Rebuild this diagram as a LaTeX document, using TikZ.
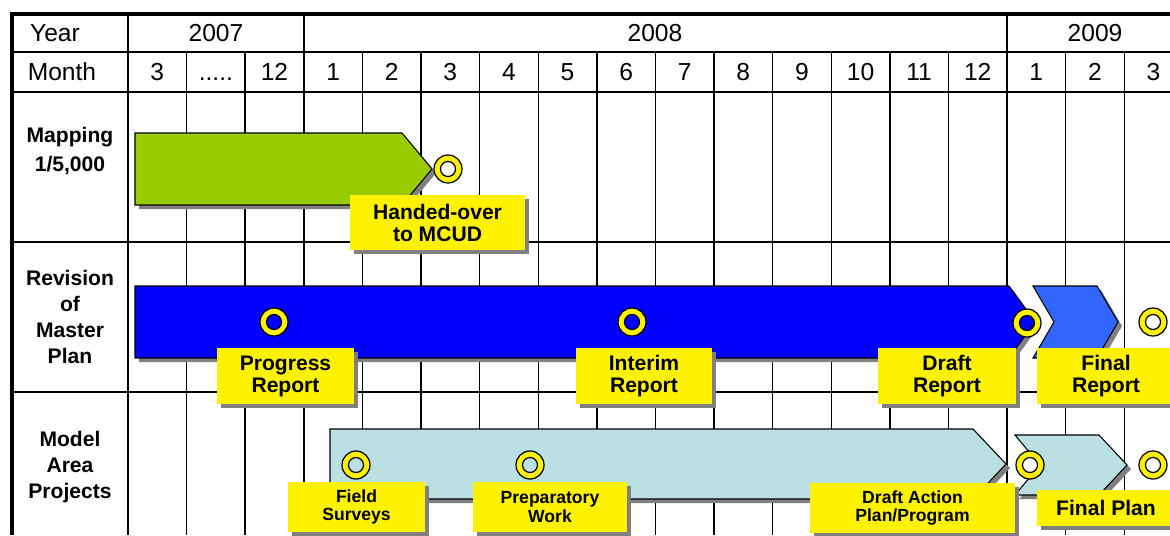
\documentclass[tikz,border=0pt]{standalone}
\usepackage{fontspec}
\setmainfont{Liberation Sans}
\usetikzlibrary{shadows}
\definecolor{mapgreen}{HTML}{99CC00}
\definecolor{planblue}{HTML}{0000FF}
\definecolor{finalblue}{HTML}{3366FF}
\definecolor{areacyan}{HTML}{BBE0E3}
\definecolor{shade}{HTML}{808080}
\tikzstyle{header} = [font=\fontsize{14}{16}\selectfont]
\tikzstyle{rowlabel} = [align=center, font=\fontsize{12}{14.7}\selectfont\bfseries]
\tikzstyle{bar} = [draw=black, line width=0.6pt, general shadow={fill=shade, shadow xshift=2.3pt, shadow yshift=-2.3pt}]
\tikzstyle{ring} = [draw=black, line width=0.7pt, fill=yellow, even odd rule]
\tikzstyle{note} = [rectangle, fill=yellow, align=center, inner sep=0pt, font=\fontsize{12}{12.5}\selectfont\bfseries, general shadow={fill=shade, shadow xshift=2.5pt, shadow yshift=-2.5pt}]
\tikzstyle{smallnote} = [note, font=\fontsize{10}{10.5}\selectfont\bfseries]
\tikzstyle{gridline} = [line width=0.8pt]
\tikzstyle{yearline} = [line width=1.1pt]

\begin{document}
\begin{tikzpicture}[x=0.02cm, y=-0.02cm]
\useasboundingbox (0,0) rectangle (1170,535);
\clip (0,0) rectangle (1170,535);

% table
\foreach \i in {1,2,4,5,...,14,16,17}
  \draw[gridline] ({128+58.6*\i},52) -- ({128+58.6*\i},535);
\foreach \i in {0,3,15}
  \draw[yearline] ({128+58.6*\i},14) -- ({128+58.6*\i},535);
\draw[gridline] (12,52) -- (1170,52);
\draw[yearline] (12,92) -- (1170,92);
\draw[yearline] (12,242) -- (1170,242);
\draw[yearline] (12,392) -- (1170,392);
\draw[line width=1.8pt] (12,535) -- (12,14) -- (1170,14);

\node[header] (year) at (55,33) {Year};
\node[header] (month) at (62,72) {Month};
\node[header] (y07) at (216,33) {2007};
\node[header] (y08) at (655,33) {2008};
\node[header] (y09) at (1095,33) {2009};
\node[header] (m07a) at (157.3,72) {3};
\node[header] (m07b) at (215.9,72) {\vphantom{1}.....};
\node[header] (m07c) at (274.5,72) {12};
\foreach \m in {1,...,12}
  \node[header] (m08-\m) at ({274.5+58.6*\m},72) {\m};
\foreach \m in {1,2,3}
  \node[header] (m09-\m) at ({977.7+58.6*\m},72) {\m};

\node[rowlabel] (map) at (70,151) {Mapping\\[2pt]1/5,000};
\node[rowlabel] (rev) at (70,317) {Revision\\of\\Master\\Plan};
\node[rowlabel] (model) at (70,467) {Model\\Area\\Projects};

% bars
\draw[bar, fill=mapgreen] (135,133) -- (402,133) -- (432,169) -- (402,205) -- (135,205) -- cycle;
\draw[bar, fill=planblue] (135,286) -- (1009,286) -- (1035,322) -- (1009,358) -- (135,358) -- cycle;
\draw[bar, fill=finalblue] (1033,286) -- (1097,286) -- (1118,322) -- (1097,358) -- (1033,358) -- (1054,322) -- cycle;
\draw[bar, fill=areacyan] (330,429) -- (973,429) -- (1006,464) -- (973,499) -- (330,499) -- cycle;
\draw[bar, fill=areacyan] (1015,435) -- (1099,435) -- (1127,465) -- (1099,495) -- (1015,495) -- (1040,465) -- cycle;

% milestones
\foreach \p in {(448,169),(274,322),(632,322),(1027,323),(1153,322),(356,465),(530,465),(1030,465),(1153,465)}
  \draw[ring] \p circle[radius=14] \p circle[radius=7.5];

\node[note, minimum width=3.5cm, minimum height=1.1cm] (hand) at (437.5,222.5) {Handed-over\\to MCUD};
\node[note, minimum width=2.74cm, minimum height=1.12cm] (prog) at (285.5,376) {Progress\\Report};
\node[note, minimum width=2.72cm, minimum height=1.12cm] (inter) at (644,376) {Interim\\Report};
\node[note, minimum width=2.76cm, minimum height=1.12cm] (draft) at (947,376) {Draft\\Report};
\node[note, minimum width=2.76cm, minimum height=1.12cm] (final) at (1106,376) {Final\\Report};
\node[smallnote, minimum width=2.74cm, minimum height=1cm] (field) at (356.5,507) {Field\\Surveys};
\node[smallnote, minimum width=3.08cm, minimum height=1cm] (prep) at (550,507) {Preparatory\\Work};
\node[smallnote, minimum width=4.1cm, minimum height=1cm] (action) at (912.5,508) {Draft Action\\Plan/Program};
\node[note, minimum width=2.76cm, minimum height=0.72cm] (fplan) at (1106,508) {Final Plan};
\end{tikzpicture}
\end{document}
